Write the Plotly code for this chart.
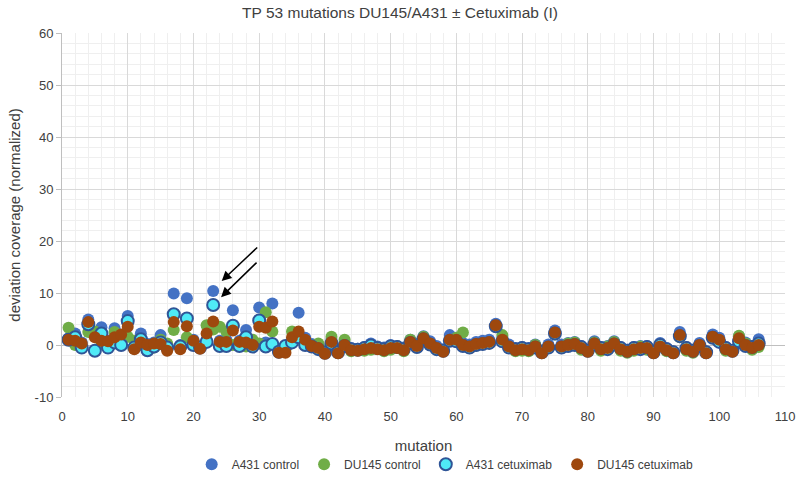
import plotly.graph_objects as go

mutation = list(range(1, 107))

a431_control = [
    1.3, 2.2, 0.5, 4.9, 1.8, 3.4, 0.8, 3.2, 1.0, 5.6,
    -0.3, 2.2, 0.2, 0.5, 1.9, -0.5, 9.9, 0.0, 9.0, 1.0,
    -0.3, 1.0, 10.4, 0.8, 1.0, 6.7, 0.8, 2.9, 0.3, 7.2,
    0.5, 8.0, -1.0, -0.5, 1.0, 6.2, 1.4, 0.2, -0.3, -1.2,
    1.0, -1.1, 0.4, -0.6, -0.7, -0.4, 0.3, -0.3, -0.5, 0.0,
    -0.2, -0.5, 1.0, 0.2, 1.7, 0.7, -0.2, -0.8, 1.9, 1.4,
    0.4, 0.1, 0.6, 0.8, 1.0, 4.1, 1.4, 0.1, -0.6, -0.4,
    -0.6, 0.1, -1.1, 0.1, 2.8, 0.1, 0.4, 0.6, -0.2, -0.9,
    0.7, -0.4, -0.2, 0.7, -0.4, -0.9, -0.4, -0.2, -0.2, -1.2,
    0.4, -0.6, -1.2, 2.5, -0.4, -0.9, 0.4, -1.2, 2.0, 1.4,
    -0.4, -0.9, 1.7, 0.5, -0.2, 1.1
]

du145_control = [
    3.3, 0.0, -0.5, 2.5, 2.6, 0.2, -0.2, 2.5, 0.0, 1.6,
    0.8, 0.0, -0.3, -0.5, 1.0, 0.3, 2.9, -0.2, 1.5, 0.0,
    -0.3, 3.8, 3.0, 3.5, 2.6, 0.0, 0.5, -0.3, 1.0, 0.3,
    6.3, 2.6, -1.0, -0.8, 2.6, 1.5, 0.5, -0.2, 0.3, -1.0,
    1.6, -1.3, 1.0, -1.2, -0.8, -1.1, -0.9, -0.5, -1.2, -0.9,
    -0.3, -1.2, 1.0, -0.5, 1.6, 0.0, -0.9, -1.0, 0.8, 1.4,
    2.4, -0.6, -0.1, 0.2, 0.3, 3.5, 1.9, -0.6, -1.2, -1.1,
    -1.2, 0.0, -1.3, -0.6, 2.0, -0.6, 0.3, 0.5, -0.9, -1.0,
    0.5, -1.1, -0.3, 0.6, -1.1, -1.5, -1.1, -0.3, -0.9, -1.3,
    0.0, -1.2, -1.3, 1.5, -1.1, -1.5, -0.3, -1.3, 1.3, 0.7,
    -1.1, -1.0, 1.8, 0.3, -0.9, -0.4
]

a431_cetuximab = [
    1.0, 1.5, -0.5, 4.0, -1.1, 2.2, -0.5, 0.5, 0.0, 4.6,
    -0.5, 1.1, -1.0, -0.3, 0.5, -0.5, 5.9, -0.3, 5.1, 0.0,
    -0.5, 0.6, 7.7, -0.2, -0.2, 3.7, -0.2, 1.5, -0.3, 4.7,
    -0.3, 0.2, -1.3, -0.2, 0.5, 1.5, 0.0, -0.3, -0.8, -1.5,
    0.3, -1.4, -0.2, -0.8, -0.9, -0.6, -0.1, -0.6, -0.8, -0.3,
    -0.4, -0.8, 0.4, -0.4, 1.1, 0.1, -0.8, -1.1, 0.8, 0.7,
    -0.2, -0.5, 0.0, 0.2, 0.4, 3.6, 0.7, -0.5, -0.8, -0.6,
    -0.8, -0.5, -1.4, -0.5, 2.2, -0.5, -0.2, 0.0, -0.4, -1.1,
    0.1, -0.6, -0.8, 0.1, -0.6, -1.1, -0.6, -0.8, -0.4, -1.4,
    0.0, -0.8, -1.4, 1.7, -0.6, -1.1, -0.2, -1.4, 1.4, 0.6,
    -0.6, -1.1, 0.7, -0.2, -0.4, 0.3
]

du145_cetuximab = [
    1.0, 0.8, 0.3, 4.4, 1.5, 0.8, 0.7, 1.5, 2.0, 3.5,
    -0.8, 0.5, 0.0, 0.3, 0.2, -1.1, 4.4, -0.8, 3.6, 0.8,
    -0.7, 2.2, 4.5, 0.6, 0.6, 2.8, 0.6, 0.5, 0.0, 3.5,
    3.3, 4.5, -1.5, -1.5, 1.5, 2.6, 1.0, -0.2, -0.6, -1.7,
    0.6, -1.6, 0.0, -1.0, -1.1, -0.8, -0.6, -0.8, -1.0, -0.6,
    -0.6, -1.0, 0.6, -0.2, 1.3, 0.3, -0.6, -1.3, 1.0, 1.0,
    0.0, -0.3, 0.2, 0.4, 0.6, 3.8, 1.0, -0.3, -1.0, -0.8,
    -1.0, -0.3, -1.6, -0.3, 2.4, -0.3, 0.0, 0.2, -0.6, -1.3,
    0.3, -0.8, -0.6, 0.3, -0.8, -1.3, -0.8, -0.6, -0.6, -1.6,
    -0.3, -1.0, -1.6, 1.9, -0.8, -1.3, 0.0, -1.6, 1.6, 1.0,
    -0.8, -1.3, 1.3, 0.0, -0.6, 0.0
]

y_tick_values = [-10, 0, 10, 20, 30, 40, 50, 60]
y_tick_labels = ["-10", "0", "10", "20", "30", "40", "50", "60"]

series = [
    ("A431 control", a431_control, "#4472C4", "#4472C4", 0),
    ("DU145 control", du145_control, "#70AD47", "#70AD47", 0),
    ("A431 cetuximab", a431_cetuximab, "#4FEAF7", "#2F5597", 2),
    ("DU145 cetuximab", du145_cetuximab, "#9E480E", "#9E480E", 0),
]

FONT = "Liberation Sans Narrow, Liberation Sans, Arial, sans-serif"
TXT = "#404040"

fig = go.Figure()
for name, vals, fill, line, lw in series:
    fig.add_trace(go.Scatter(
        x=mutation, y=vals, mode="markers", name=name,
        marker=dict(size=12, color=fill, line=dict(color=line, width=lw)),
    ))

fig.add_annotation(x=24.3, y=12.3, ax=37, ay=-35, showarrow=True,
                   arrowhead=2, arrowsize=1.3, arrowwidth=1.5, arrowcolor="black", text="")
fig.add_annotation(x=24.2, y=9.2, ax=37, ay=-36, showarrow=True,
                   arrowhead=2, arrowsize=1.3, arrowwidth=1.5, arrowcolor="black", text="")

fig.update_layout(
    width=800, height=485,
    paper_bgcolor="white", plot_bgcolor="white",
    margin=dict(l=62, r=15, t=33, b=88, autoexpand=False),
    font=dict(family=FONT, size=13, color=TXT),
    title=dict(text="TP 53 mutations DU145/A431 ± Cetuximab (I)", x=0.5, xanchor="center",
               y=0.975, yanchor="middle", yref="container",
               font=dict(family=FONT, size=15.5, color=TXT)),
    showlegend=True,
    legend=dict(orientation="h", x=0.53, xanchor="center", y=-0.145, yanchor="top",
                font=dict(family=FONT, size=12, color=TXT),
                itemsizing="constant", tracegroupgap=0, itemwidth=30),
    xaxis=dict(
        range=[0, 110], dtick=10, tick0=0, automargin=False,
        showgrid=True, gridcolor="#D9D9D9", gridwidth=1,
        minor=dict(dtick=2, showgrid=True, gridcolor="#EFEFEF", gridwidth=1),
        zeroline=False, showline=False, ticks="", ticklabelstandoff=10,
        title=dict(text="mutation", font=dict(family=FONT, size=15, color=TXT), standoff=17),
        tickfont=dict(family=FONT, size=13, color=TXT),
    ),
    yaxis=dict(
        range=[-10, 60], tickvals=y_tick_values, ticktext=y_tick_labels, automargin=False,
        showgrid=True, gridcolor="#D9D9D9", gridwidth=1,
        minor=dict(dtick=2, showgrid=True, gridcolor="#EFEFEF", gridwidth=1),
        zeroline=True, zerolinecolor="#BFBFBF", zerolinewidth=1,
        showline=True, linecolor="#BFBFBF", linewidth=1,
        ticks="outside", ticklen=5, tickcolor="#BFBFBF",
        title=dict(text="deviation coverage (normalized)", font=dict(family=FONT, size=15, color=TXT), standoff=10),
        tickfont=dict(family=FONT, size=13, color=TXT),
    ),
)

fig.write_html("out.html", config={"displayModeBar": False},
               post_script="document.body.style.margin='0';")
